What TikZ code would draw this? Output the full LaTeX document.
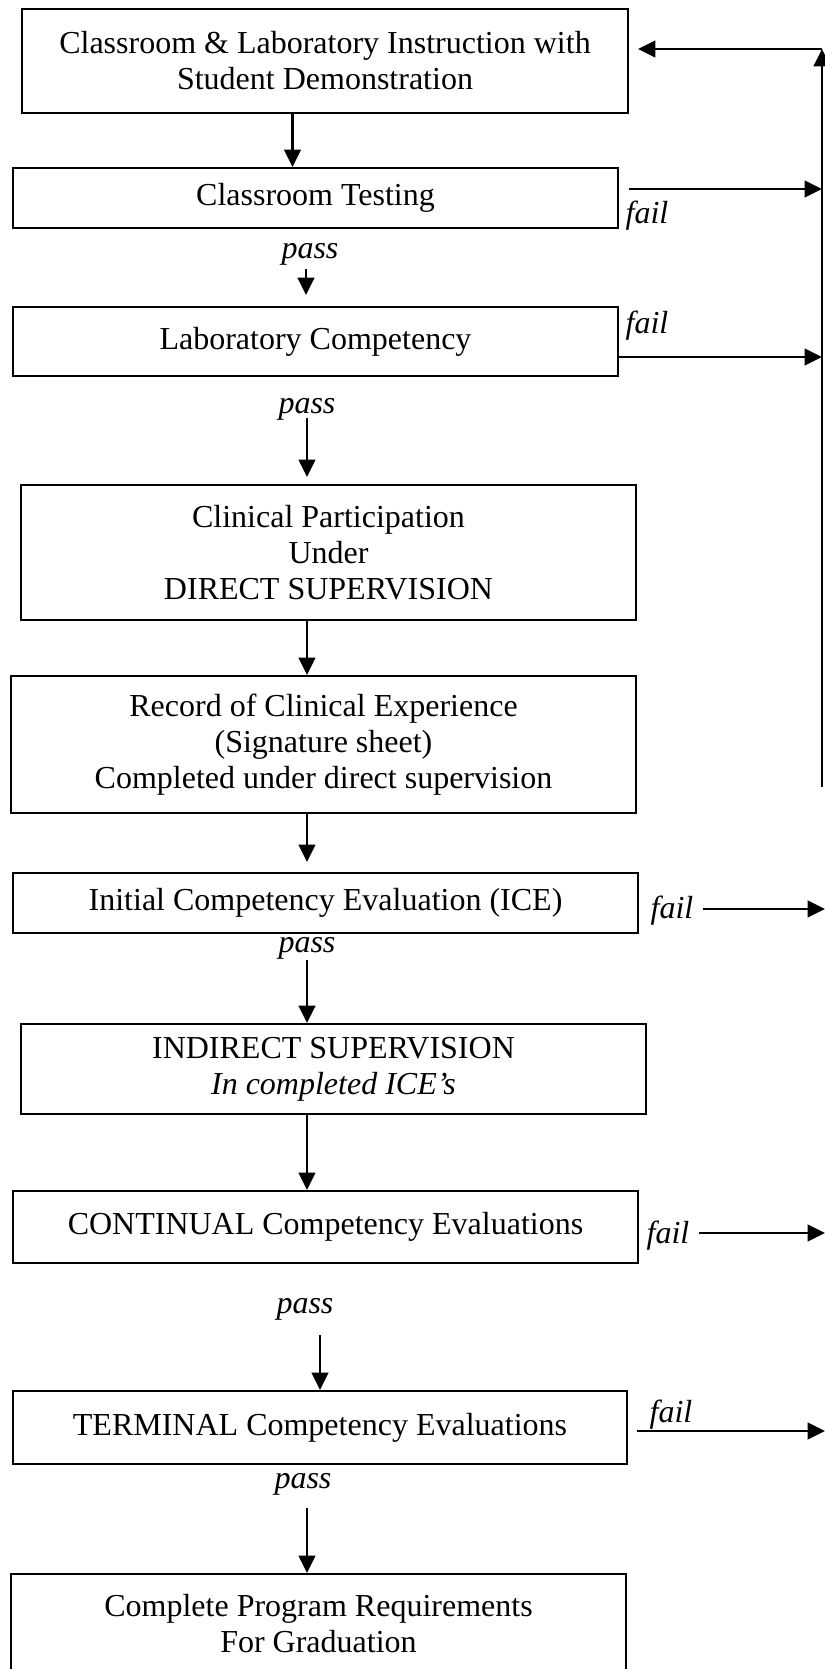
\documentclass[tikz,border=0pt]{standalone}
\usepackage{fontspec}
\setmainfont{Liberation Serif}
\usetikzlibrary{arrows.meta,positioning,calc}

\newcommand*{\px}{0.375pt}

\begin{document}
\begin{tikzpicture}[x=0.375pt,y=-0.375pt]
		\tikzset{
			stage/.style={draw, line width=0.75pt, align=center, inner sep=0pt, font={\fontsize{12}{13.5}\selectfont}},
			flow/.style={-{Triangle[length=6.5pt, width=6.2pt]}, line width=0.95pt},
			verdict/.style={anchor=base, font={\fontsize{12}{13.5}\selectfont\itshape}},
		}
		\useasboundingbox (0,0) rectangle (825,1669);
		% columns of the down arrows
		\coordinate (col0) at (292.5,0);
		\coordinate (col1) at (306,0);
		\coordinate (col) at (307,0);
		\coordinate (col2) at (320,0);
		% stages
		\node[stage, minimum width=606*\px, minimum height=104*\px] (instr) at (325,61) {Classroom \& Laboratory Instruction with\\Student Demonstration};
		\node[stage, minimum width=605*\px, minimum height=60*\px] (ctest) at (315.5,198) {Classroom Testing};
		\node[stage, minimum width=605*\px, minimum height=69*\px] (labcomp) at (315.5,341.5) {Laboratory Competency};
		\node[stage, minimum width=615*\px, minimum height=135*\px] (clinpart) at (328.5,552.5) {Clinical Participation\\Under\\DIRECT SUPERVISION};
		\node[stage, minimum width=625*\px, minimum height=137*\px] (record) at (323.5,744.5) {Record of Clinical Experience\\(Signature sheet)\\Completed under direct supervision};
		\node[stage, minimum width=625*\px, minimum height=60*\px] (ice) at (325.5,903) {Initial Competency Evaluation (ICE)};
		\node[stage, minimum width=625*\px, minimum height=90*\px] (indirect) at (333.5,1069) {INDIRECT SUPERVISION\\\textit{In completed ICE’s}};
		\node[stage, minimum width=625*\px, minimum height=72*\px] (continual) at (325.5,1227) {CONTINUAL Competency Evaluations};
		\node[stage, minimum width=614*\px, minimum height=73*\px] (terminal) at (320,1427.5) {TERMINAL Competency Evaluations};
		\node[stage, minimum width=615*\px, minimum height=100*\px] (complete) at (318.5,1624) {Complete Program Requirements\\For Graduation};
		% pass / fail
		\node[verdict] (pass1) at (310,258) {pass};
		\node[verdict] (pass2) at (307,413) {pass};
		\node[verdict] (pass3) at (307,952) {pass};
		\node[verdict] (pass4) at (305,1313) {pass};
		\node[verdict] (pass5) at (303,1488) {pass};
		\node[verdict] (fail1) at (647,223) {fail};
		\node[verdict] (fail2) at (647,333) {fail};
		\node[verdict] (fail3) at (672,918) {fail};
		\node[verdict] (fail4) at (668,1243) {fail};
		\node[verdict] (fail5) at (671,1422) {fail};
		% down the chain
		\draw[flow] (instr.south -| col0) -- (ctest.north -| col0);
		\draw[flow] ($(pass1.base -| col1)+(0,11)$) -- ($(labcomp.north -| col1)+(0,-11)$);
		\draw[flow] ($(pass2.base -| col)+(0,5)$) -- ($(clinpart.north -| col)+(0,-7)$);
		\draw[flow] (clinpart.south -| col) -- (record.north -| col);
		\draw[flow] (record.south -| col) -- ($(ice.north -| col)+(0,-10)$);
		\draw[flow] ($(pass3.base -| col)+(0,8)$) -- (indirect.north -| col);
		\draw[flow] (indirect.south -| col) -- (continual.north -| col);
		\draw[flow] ($(pass4.base -| col2)+(0,22)$) -- (terminal.north -| col2);
		\draw[flow] ($(pass5.base -| col)+(0,20)$) -- (complete.north -| col);
		% back to instruction
		\coordinate (rtop) at (822,49);
		\coordinate (rbot) at (822,787);
		\coordinate (f1) at (822,189);
		\coordinate (f2) at (822,357);
		\coordinate (e3) at (825,909);
		\coordinate (e4) at (825,1233);
		\coordinate (e5) at (825,1431);
		\draw[flow] (rbot) -- (rtop);
		\draw[flow] (rtop) -- ($(instr.east |- rtop)+(9,0)$);
		\draw[flow] ($(ctest.east |- f1)+(10,0)$) -- (f1);
		\draw[flow] (labcomp.east |- f2) -- (f2);
		\draw[flow] (fail3.east |- e3) -- (e3);
		\draw[flow] (fail4.east |- e4) -- (e4);
		\draw[flow] ($(terminal.east |- e5)+(9,0)$) -- (e5);
	\end{tikzpicture}
\end{document}
